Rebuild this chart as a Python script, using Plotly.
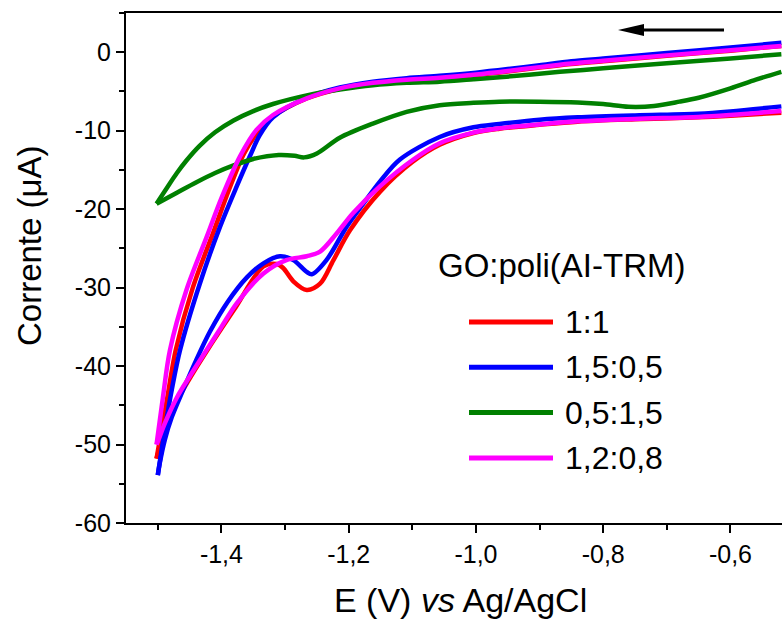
import plotly.graph_objects as go

# Cyclic voltammograms of GO:poli(AI-TRM) films, vs Ag/AgCl
legend_title = "GO:poli(AI-TRM)"
labels = ["1:1", "1,5:0,5", "0,5:1,5", "1,2:0,8"]
colors = ["#FF0000", "#0000FF", "#008000", "#FF00FF"]

# --- 1:1 ---------------------------------------------------------------
E_fwd_11 = [-0.52, -0.6, -0.7, -0.8, -0.85, -0.9, -0.95, -1.0, -1.057, -1.109, -1.162,
            -1.214, -1.266, -1.319, -1.345, -1.365, -1.388, -1.412, -1.445, -1.472,
            -1.484, -1.495, -1.502]
I_fwd_11 = [0.8, 0.2, -0.45, -1.15, -1.5, -1.95, -2.45, -2.9, -3.3, -3.55, -3.95,
            -4.65, -5.9, -8.2, -10.4, -13.0, -17.5, -22.8, -30.0, -38.0,
            -43.5, -48.5, -51.8]
E_rev_11 = [-1.502, -1.49, -1.472, -1.45, -1.42, -1.38, -1.334, -1.313, -1.303, -1.287,
            -1.266, -1.245, -1.224, -1.198, -1.151, -1.1, -1.057, -1.004, -0.963, -0.9,
            -0.84, -0.75, -0.65, -0.6, -0.52]
I_rev_11 = [-51.8, -48.5, -44.8, -41.6, -37.7, -32.8, -27.3, -27.0, -27.5, -29.2,
            -30.3, -29.5, -26.5, -22.7, -17.8, -14.0, -11.8, -10.3, -9.75, -9.25,
            -8.85, -8.55, -8.3, -8.1, -7.7]

# --- 1,5:0,5 -----------------------------------------------------------
E_fwd_15 = [-0.52, -0.6, -0.7, -0.8, -0.85, -0.9, -0.95, -1.0, -1.057, -1.109, -1.162,
            -1.214, -1.266, -1.319, -1.34, -1.355, -1.376, -1.402, -1.434, -1.465,
            -1.478, -1.489, -1.5]
I_fwd_15 = [1.2, 0.6, -0.1, -0.8, -1.15, -1.65, -2.15, -2.6, -3.0, -3.3, -3.75,
            -4.5, -5.8, -8.3, -10.6, -13.2, -17.1, -22.2, -29.5, -37.95,
            -43.0, -48.1, -53.9]
E_rev_15 = [-1.5, -1.497, -1.489, -1.478, -1.46, -1.44, -1.418, -1.39, -1.36, -1.334,
            -1.308, -1.287, -1.266, -1.258, -1.235, -1.203, -1.177, -1.151, -1.12,
            -1.057, -1.004, -0.963, -0.9, -0.84, -0.75, -0.65, -0.6, -0.52]
I_rev_15 = [-53.9, -52.4, -49.4, -46.5, -43.0, -39.3, -35.6, -31.8, -28.7, -26.9,
            -26.0, -26.5, -28.0, -28.3, -26.5, -22.2, -19.3, -16.5, -13.7,
            -10.8, -9.57, -9.15, -8.6, -8.3, -8.05, -7.85, -7.55, -6.9]

# --- 0,5:1,5 -----------------------------------------------------------
E_fwd_05 = [-0.52, -0.6, -0.7, -0.8, -0.868, -0.963, -1.004, -1.057, -1.109, -1.162,
            -1.214, -1.266, -1.319, -1.35, -1.381, -1.41, -1.434, -1.455, -1.47,
            -1.485, -1.502]
I_fwd_05 = [-0.25, -0.8, -1.4, -2.05, -2.5, -3.2, -3.45, -3.75, -3.9, -4.2,
            -4.75, -5.5, -6.6, -7.5, -8.7, -10.2, -11.9, -13.8, -15.4,
            -17.2, -19.3]
E_rev_05 = [-1.502, -1.47, -1.44, -1.41, -1.38, -1.35, -1.31, -1.285, -1.27, -1.25,
            -1.214, -1.162, -1.109, -1.057, -1.004, -0.963, -0.9, -0.84, -0.8, -0.76,
            -0.72, -0.68, -0.65, -0.6, -0.56, -0.52]
I_rev_05 = [-19.3, -17.9, -16.6, -15.4, -14.4, -13.6, -13.1, -13.2, -13.4, -12.9,
            -10.9, -9.1, -7.6, -6.75, -6.45, -6.3, -6.3, -6.4, -6.6, -6.95,
            -6.85, -6.3, -5.8, -4.6, -3.5, -2.5]

# --- 1,2:0,8 -----------------------------------------------------------
E_fwd_12 = [-0.52, -0.6, -0.7, -0.8, -0.85, -0.9, -0.95, -1.0, -1.057, -1.109, -1.162,
            -1.214, -1.266, -1.319, -1.345, -1.371, -1.40, -1.423, -1.455, -1.481,
            -1.492, -1.502]
I_fwd_12 = [0.8, 0.25, -0.4, -1.1, -1.45, -1.9, -2.4, -2.85, -3.25, -3.5, -3.9,
            -4.6, -5.87, -8.0, -9.9, -13.3, -18.6, -23.5, -30.3, -38.0,
            -44.0, -50.0]
E_rev_12 = [-1.502, -1.499, -1.489, -1.47, -1.449, -1.423, -1.40, -1.376, -1.334,
            -1.298, -1.266, -1.245, -1.219, -1.193, -1.151, -1.099, -1.057, -1.004,
            -0.963, -0.9, -0.84, -0.75, -0.65, -0.6, -0.52]
I_rev_12 = [-50.0, -49.4, -47.3, -44.0, -41.2, -37.9, -35.0, -32.0, -28.2,
            -26.5, -26.0, -25.4, -23.1, -20.5, -17.1, -13.7, -11.6, -10.25,
            -9.7, -9.2, -8.8, -8.5, -8.25, -8.0, -7.5]

series = [
    (E_fwd_11, I_fwd_11, E_rev_11, I_rev_11),
    (E_fwd_15, I_fwd_15, E_rev_15, I_rev_15),
    (E_fwd_05, I_fwd_05, E_rev_05, I_rev_05),
    (E_fwd_12, I_fwd_12, E_rev_12, I_rev_12),
]

x_tickvals = [-1.4, -1.2, -1.0, -0.8, -0.6]
x_ticktext = ["-1,4", "-1,2", "-1,0", "-0,8", "-0,6"]
y_tickvals = [0, -10, -20, -30, -40, -50, -60]
y_ticktext = ["0", "-10", "-20", "-30", "-40", "-50", "-60"]

FONT = "Liberation Sans, Arial, sans-serif"
W, H = 782, 620
ML, MR, MT, MB = 126, 0, 13, 97
PW, PH = W - ML - MR, H - MT - MB


def px(xp):
    return (xp - ML) / PW


def py(yp):
    return (H - MB - yp) / PH


fig = go.Figure()
for (ef, i_f, er, i_r), name, col in zip(series, labels, colors):
    # each sweep is its own spline segment so the turning point stays sharp
    fig.add_trace(go.Scatter(
        x=ef + [None] + er, y=i_f + [None] + i_r,
        mode="lines", name=name, connectgaps=False,
        line=dict(color=col, width=4.5, shape="spline", smoothing=0.9),
        showlegend=False, hoverinfo="skip",
    ))

shapes = []
annotations = []

# legend block
annotations.append(dict(xref="paper", yref="paper", x=px(436), y=py(265),
                        xanchor="left", yanchor="middle", showarrow=False,
                        text=legend_title, font=dict(family=FONT, size=33, color="black")))
for k, (name, col) in enumerate(zip(labels, colors)):
    yk = py(322 + 45.3 * k)
    shapes.append(dict(type="line", xref="paper", yref="paper",
                       x0=px(469), x1=px(553), y0=yk, y1=yk,
                       line=dict(color=col, width=5)))
    annotations.append(dict(xref="paper", yref="paper", x=px(563), y=yk,
                            xanchor="left", yanchor="middle", showarrow=False,
                            text=name, font=dict(family=FONT, size=32, color="black")))

# scan-direction arrow
ya = py(30)
shapes.append(dict(type="line", xref="paper", yref="paper",
                   x0=px(640), x1=px(724), y0=ya, y1=ya,
                   line=dict(color="black", width=3)))
shapes.append(dict(type="path", xref="paper", yref="paper",
                   path=f"M {px(618)} {ya} L {px(644)} {py(24)} L {px(644)} {py(36)} Z",
                   fillcolor="black", line=dict(color="black", width=0)))

# axis titles
annotations.append(dict(xref="paper", yref="paper", x=px(460), y=py(600),
                        xanchor="center", yanchor="middle", showarrow=False,
                        text="E (V) <i>vs</i> Ag/AgCl",
                        font=dict(family=FONT, size=34, color="black")))
annotations.append(dict(xref="paper", yref="paper", x=px(29), y=py(246),
                        xanchor="center", yanchor="middle", showarrow=False,
                        textangle=-90, text="Corrente (\u03bcA)",
                        font=dict(family=FONT, size=33, color="black")))

fig.update_layout(
    width=W, height=H,
    margin=dict(l=ML, r=MR, t=MT, b=MB, pad=0),
    paper_bgcolor="white", plot_bgcolor="white",
    font=dict(family=FONT, color="black"),
    showlegend=False,
    shapes=shapes, annotations=annotations,
    xaxis=dict(
        range=[-1.55, -0.519], showgrid=False, zeroline=False,
        showline=True, linecolor="black", linewidth=2, mirror=True,
        ticks="outside", ticklen=8, tickwidth=2, tickcolor="black",
        tickvals=x_tickvals, ticktext=x_ticktext,
        tickfont=dict(family=FONT, size=25, color="black"),
        minor=dict(ticks="outside", ticklen=5, tickwidth=2, tickcolor="black",
                   tick0=-1.5, dtick=0.2),
    ),
    yaxis=dict(
        range=[-60, 5], showgrid=False, zeroline=False,
        showline=True, linecolor="black", linewidth=2, mirror=False,
        ticks="outside", ticklen=8, tickwidth=2, tickcolor="black",
        tickvals=y_tickvals, ticktext=y_ticktext,
        tickfont=dict(family=FONT, size=25, color="black"),
        minor=dict(ticks="outside", ticklen=5, tickwidth=2, tickcolor="black",
                   tick0=-55, dtick=10),
    ),
)

fig.write_html("out.html")
